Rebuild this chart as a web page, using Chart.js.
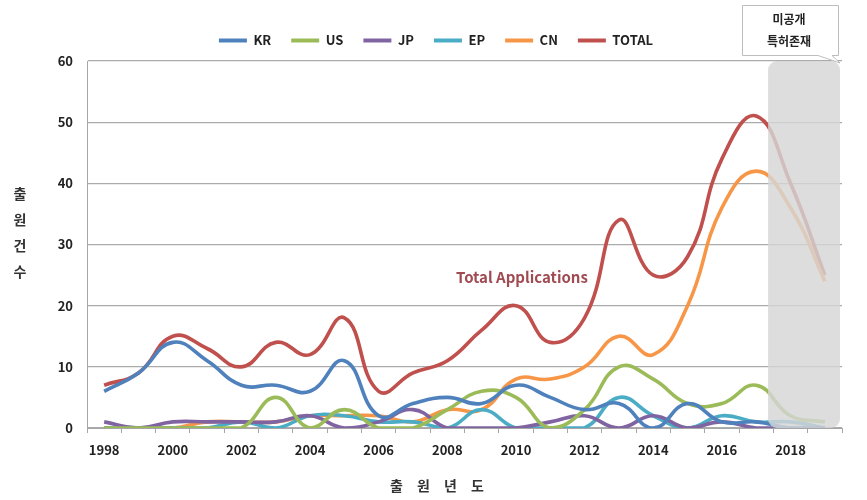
<!DOCTYPE html>
<html>
<head>
<meta charset="utf-8">
<script src="https://cdn.jsdelivr.net/npm/chart.js@4.4.1/dist/chart.umd.min.js"></script>
<style>
html,body{margin:0;padding:0;background:#fff;}
#wrap{width:867px;height:500px;position:relative;}
</style>
</head>
<body>
<div id="wrap"><canvas id="c" width="867" height="500"></canvas></div>
<script>
const years = ['1998','1999','2000','2001','2002','2003','2004','2005','2006','2007','2008','2009','2010','2011','2012','2013','2014','2015','2016','2017','2018','2019'];
const KR    = [6, 9, 14, 11, 7, 7, 6, 11, 2, 4, 5, 4, 7, 5, 3, 4, 0, 4, 1, 1, 0, 0];
const US    = [0, 0, 0, 0, 0, 5, 0, 3, 0, 0, 3, 6, 5, 0, 3, 10, 8, 4, 4, 7, 2, 1];
const JP    = [1, 0, 1, 1, 1, 1, 2, 0, 1, 3, 0, 0, 0, 1, 2, 0, 2, 0, 1, 0, 0, 0];
const EP    = [0, 0, 0, 0, 1, 0, 2, 2, 1, 1, 0, 3, 0, 0, 0, 5, 2, 0, 2, 1, 1, 0];
const CN    = [0, 0, 0, 1, 1, 1, 2, 2, 2, 1, 3, 3, 8, 8, 10, 15, 12, 20, 36, 42, 36, 24];
const TOTAL = [7, 9, 15, 13, 10, 14, 12, 18, 6, 9, 11, 16, 20, 14, 18, 34, 25, 28, 44, 51, 40, 25];
const seriesNames = ['KR','US','JP','EP','CN','TOTAL'];
const yTitle = ['출','원','건','수'];
const xTitle = ['출','원','년','도'];
const noteText = 'Total Applications';
const calloutLines = ['미공개','특허존재'];

const colors = {KR:'#4F81BD', US:'#9BBB59', JP:'#8064A2', EP:'#4BACC6', CN:'#F79646', TOTAL:'#C0504D'};
const seriesData = {KR, US, JP, EP, CN, TOTAL};
const FONT = "'Noto Sans CJK KR', 'Noto Sans', sans-serif";

const datasets = seriesNames.map(n => ({
  label: n,
  data: seriesData[n],
  borderColor: colors[n],
  backgroundColor: colors[n],
  borderWidth: 3.6,
  pointRadius: 0,
  pointHoverRadius: 0,
  tension: 0.45,
  fill: false
}));

const overlay = {
  id: 'overlay',
  afterDatasetsDraw(chart) {
    const ctx = chart.ctx;
    const ca = chart.chartArea;
    // gray "undisclosed" box
    const bx = ca.left + (ca.right - ca.left) * 0.9021, bw = ca.right - 2 - bx;
    ctx.save();
    ctx.fillStyle = 'rgba(214,214,214,0.82)';
    ctx.beginPath();
    ctx.roundRect(bx, ca.top, bw, ca.bottom - ca.top, 9);
    ctx.fill();
    ctx.restore();
  },
  afterDraw(chart) {
    const ctx = chart.ctx;
    ctx.save();
    // y title, stacked
    ctx.fillStyle = '#333';
    ctx.font = "bold 14px " + FONT;
    ctx.textAlign = 'center';
    ctx.textBaseline = 'middle';
    yTitle.forEach((ch, i) => ctx.fillText(ch, 20, 194 + i * 26));
    // x title
    xTitle.forEach((ch, i) => ctx.fillText(ch, 437 + (i - 1.5) * 27, 486));
    // note
    ctx.fillStyle = '#A04A52';
    ctx.font = "bold 15px " + FONT;
    ctx.textAlign = 'left';
    ctx.fillText(noteText, 456, 277);
    // callout
    ctx.fillStyle = '#fff';
    ctx.strokeStyle = '#bdbdbd';
    ctx.lineWidth = 1;
    ctx.beginPath();
    ctx.moveTo(742.5, 5.5);
    ctx.lineTo(838.5, 5.5);
    ctx.lineTo(838.5, 55.5);
    ctx.lineTo(832, 55.5);
    ctx.lineTo(840, 63);
    ctx.lineTo(818, 55.5);
    ctx.lineTo(742.5, 55.5);
    ctx.closePath();
    ctx.fill();
    ctx.stroke();
    ctx.fillStyle = '#222';
    ctx.font = "bold 12px " + FONT;
    ctx.textAlign = 'center';
    ctx.fillText(calloutLines[0], 789, 19);
    ctx.fillText(calloutLines[1], 789, 41);
    ctx.restore();
  }
};

new Chart(document.getElementById('c'), {
  type: 'line',
  data: { labels: years, datasets },
  options: {
    responsive: false,
    animation: false,
    events: [],
    layout: { padding: { left: 30, right: 25, top: 14, bottom: 0 } },
    plugins: {
      tooltip: { enabled: false },
      title: { display: true, text: '', weight: 500, padding: { top: 3, bottom: 0 }, font: { size: 1, lineHeight: 1 } },
      legend: {
        position: 'top',
        labels: {
          boxWidth: 28,
          boxHeight: 4,
          padding: 20,
          color: '#222',
          font: { family: FONT, size: 13, weight: 'bold' },
          generateLabels(chart) {
            return Chart.defaults.plugins.legend.labels.generateLabels(chart).map(l => Object.assign(l, { lineWidth: 0 }));
          }
        }
      }
    },
    scales: {
      x: {
        offset: true,
        grid: { offset: true, drawOnChartArea: false, tickLength: 5, color: '#a6a6a6' },
        border: { color: '#a6a6a6', width: 1 },
        ticks: {
          autoSkip: false,
          maxRotation: 0,
          padding: 9,
          color: '#222',
          font: { family: FONT, size: 13, weight: 'bold' },
          callback(v, i) { return i % 2 === 0 ? this.getLabelForValue(v) : ''; }
        },
        afterFit(s) { s.height = 72; }
      },
      y: {
        min: 0, max: 60,
        ticks: { stepSize: 10, padding: 14, color: '#222', font: { family: FONT, size: 13, weight: 'bold' } },
        grid: { color: '#ababab', lineWidth: 1.3, drawTicks: false },
        border: { color: '#a6a6a6', width: 1 },
        afterFit(s) { s.width = 57; }
      }
    }
  },
  plugins: [overlay]
});
</script>
</body>
</html>
